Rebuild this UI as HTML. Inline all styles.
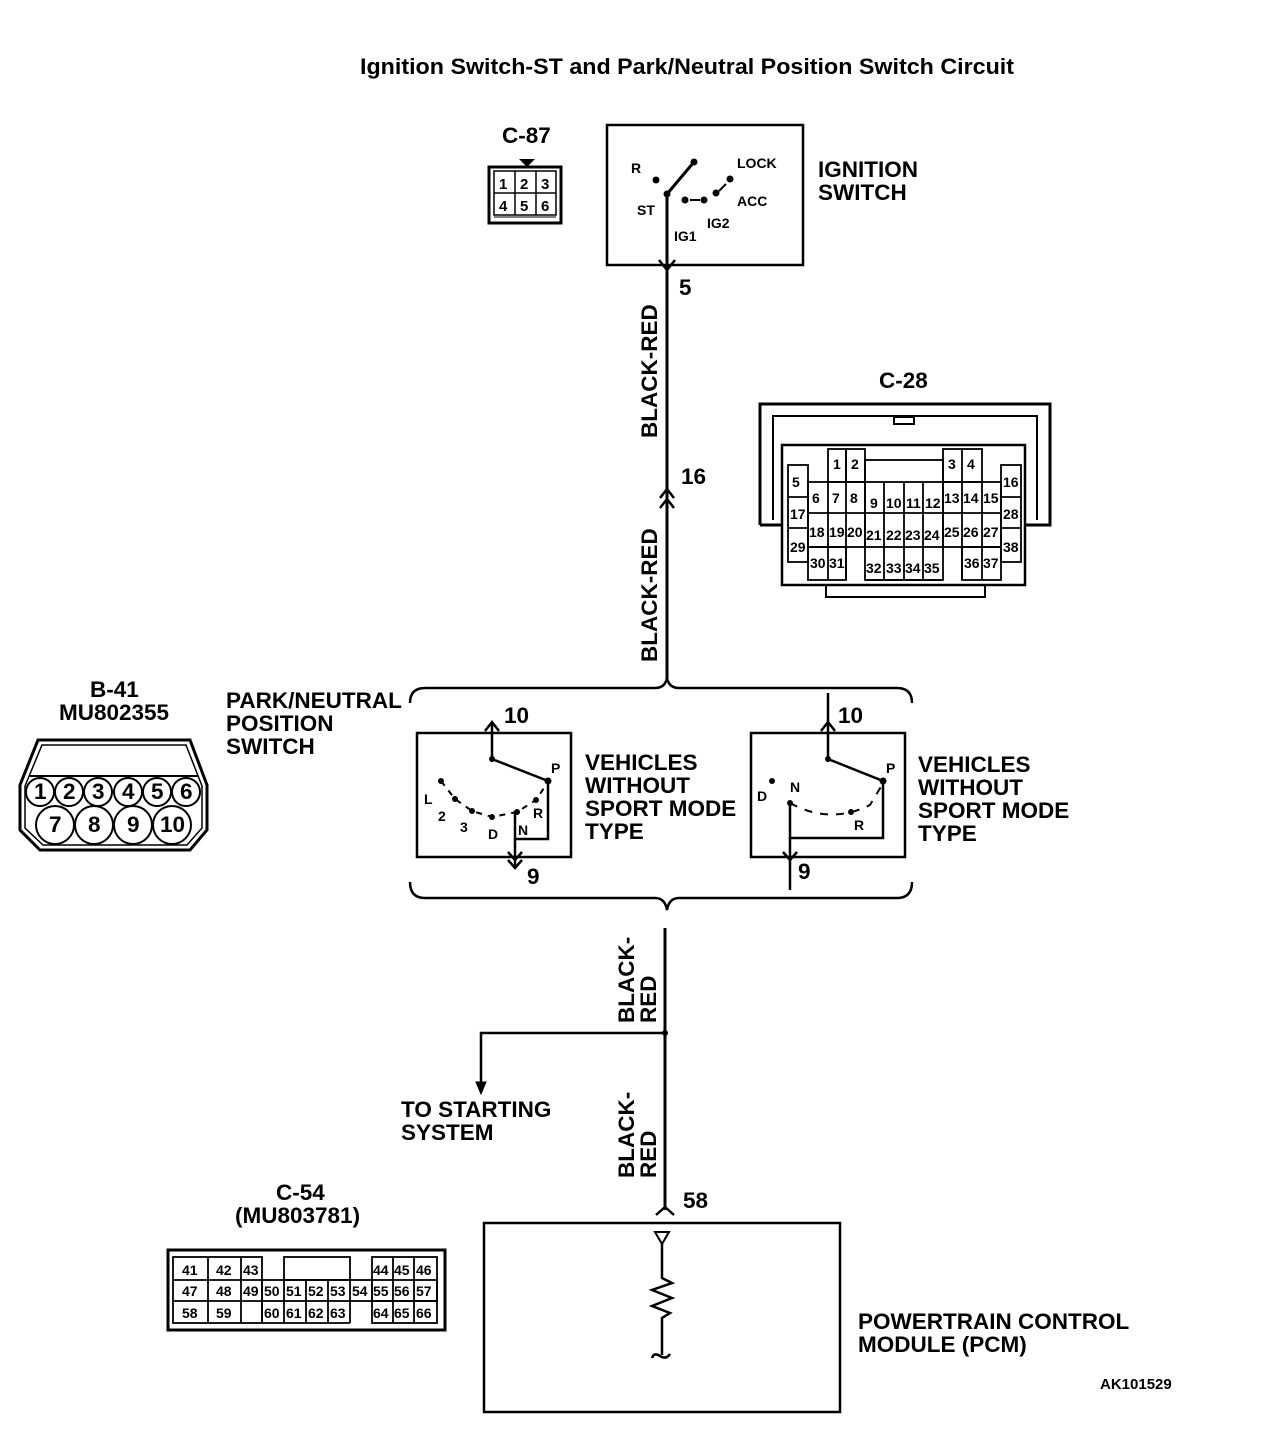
<!DOCTYPE html>
<html><head><meta charset="utf-8"><style>
html,body{margin:0;padding:0;background:#fff}
svg{display:block}
text{font-family:"Liberation Sans",Arial,sans-serif;fill:#000}
.t{font-size:22.5px;font-weight:bold}
.s{font-size:15px;font-weight:bold}
.c{font-size:14px;font-weight:bold}
</style></head><body>
<svg width="1280" height="1438" viewBox="0 0 1280 1438" xmlns="http://www.w3.org/2000/svg" fill="none" stroke="#000">
<text x="360" y="74" class="t" stroke="none" font-size="19" textLength="654" lengthAdjust="spacingAndGlyphs">Ignition Switch-ST and Park/Neutral Position Switch Circuit</text>

<!-- C-87 -->
<text x="502" y="143" class="t" stroke="none" font-size="21">C-87</text>
<path d="M519,159 L535,159 L527,167 Z" fill="#000" stroke="none"/>
<rect x="489" y="167" width="72" height="56" stroke-width="3"/>
<rect x="494" y="171" width="62" height="44" stroke-width="1.5"/>
<line x1="494" y1="193" x2="556" y2="193" stroke-width="1.5"/>
<line x1="515" y1="171" x2="515" y2="215" stroke-width="1.5"/>
<line x1="536" y1="171" x2="536" y2="215" stroke-width="1.5"/>
<line x1="494" y1="217" x2="556" y2="217" stroke-width="1"/>
<g class="s" stroke="none" font-size="17">
<text x="499" y="189">1</text><text x="520" y="189">2</text><text x="541" y="189">3</text>
<text x="499" y="211">4</text><text x="520" y="211">5</text><text x="541" y="211">6</text></g>

<!-- Ignition switch -->
<rect x="607" y="125" width="196" height="140" stroke-width="2.5"/>
<g stroke="none" class="c">
<text x="631" y="173">R</text><text x="737" y="168">LOCK</text><text x="637" y="215">ST</text>
<text x="737" y="206">ACC</text><text x="707" y="228">IG2</text><text x="674" y="241">IG1</text></g>
<line x1="667" y1="194" x2="694" y2="162" stroke-width="3"/>
<circle cx="694" cy="162" r="3" fill="#000"/><circle cx="667" cy="194" r="3" fill="#000"/>
<circle cx="656" cy="180" r="3" fill="#000"/><circle cx="730" cy="179" r="3" fill="#000"/>
<circle cx="685" cy="200" r="3" fill="#000"/><circle cx="704" cy="200" r="3" fill="#000"/><circle cx="716" cy="193" r="3" fill="#000"/>
<path d="M690,200 L700,200 M719,191 L726,184" stroke-width="2"/>
<line x1="667" y1="194" x2="667" y2="680" stroke-width="3"/>
<path d="M659,260 L667,270 L675,260" stroke-width="2.5"/>
<text x="679" y="295" class="t" stroke="none" font-size="20">5</text>
<path d="M660,498 L667,489 L674,498 M660,508 L667,499 L674,508" stroke-width="2.5"/>
<text x="681" y="484" class="t" stroke="none" font-size="20">16</text>
<text transform="translate(657,438) rotate(-90)" class="t" stroke="none" font-size="21">BLACK-RED</text>
<text transform="translate(657,662) rotate(-90)" class="t" stroke="none" font-size="21">BLACK-RED</text>
<text x="818" y="177" class="t" stroke="none">IGNITION</text>
<text x="818" y="200" class="t" stroke="none">SWITCH</text>

<!-- C-28 -->
<text x="879" y="388" class="t" stroke="none" font-size="21">C-28</text>
<path d="M760,525 L760,404 L1050,404 L1050,525 L1025,525 M760,525 L782,525" stroke-width="3"/>
<path d="M773,520 L773,416 L1037,416 L1037,520" stroke-width="2"/>
<rect x="894" y="417" width="20" height="7" stroke-width="2"/>
<rect x="782" y="445" width="243" height="140" stroke-width="2.5"/>
<rect x="826" y="585" width="159" height="12" stroke-width="2"/>
<g stroke-width="1.8">
<rect x="788" y="465" width="20" height="97"/>
<line x1="788" y1="497" x2="808" y2="497"/><line x1="788" y1="528" x2="808" y2="528"/>
<rect x="1001" y="465" width="20" height="97"/>
<line x1="1001" y1="497" x2="1021" y2="497"/><line x1="1001" y1="528" x2="1021" y2="528"/>
<rect x="828" y="449" width="37" height="33"/><line x1="846" y1="449" x2="846" y2="482"/>
<rect x="943" y="449" width="39" height="33"/><line x1="962" y1="449" x2="962" y2="482"/>
<rect x="865" y="460" width="78" height="120"/>
<rect x="808" y="482" width="193" height="65"/>
<line x1="808" y1="513" x2="1001" y2="513"/>
<line x1="828" y1="482" x2="828" y2="580"/><line x1="846" y1="449" x2="846" y2="580"/>
<line x1="865" y1="482" x2="865" y2="547"/>
<line x1="884" y1="482" x2="884" y2="580"/><line x1="904" y1="482" x2="904" y2="580"/><line x1="923" y1="482" x2="923" y2="580"/>
<line x1="943" y1="482" x2="943" y2="547"/><line x1="962" y1="482" x2="962" y2="580"/><line x1="982" y1="482" x2="982" y2="580"/>
<rect x="808" y="547" width="38" height="33"/><rect x="962" y="547" width="39" height="33"/>
<line x1="865" y1="580" x2="943" y2="580"/>
</g>
<g stroke="none" class="c" font-size="13">
<text x="833" y="469">1</text><text x="851" y="469">2</text><text x="948" y="469">3</text><text x="967" y="469">4</text>
<text x="792" y="487">5</text><text x="1003" y="487">16</text>
<text x="812" y="503">6</text><text x="832" y="503">7</text><text x="850" y="503">8</text>
<text x="870" y="508">9</text><text x="886" y="508">10</text><text x="906" y="508">11</text><text x="925" y="508">12</text>
<text x="944" y="503">13</text><text x="963" y="503">14</text><text x="983" y="503">15</text>
<text x="790" y="519">17</text><text x="1003" y="519">28</text>
<text x="809" y="537">18</text><text x="829" y="537">19</text><text x="847" y="537">20</text>
<text x="866" y="540">21</text><text x="886" y="540">22</text><text x="905" y="540">23</text><text x="924" y="540">24</text>
<text x="944" y="537">25</text><text x="963" y="537">26</text><text x="983" y="537">27</text>
<text x="790" y="552">29</text><text x="1003" y="552">38</text>
<text x="810" y="568">30</text><text x="829" y="568">31</text>
<text x="866" y="573">32</text><text x="886" y="573">33</text><text x="905" y="573">34</text><text x="924" y="573">35</text>
<text x="964" y="568">36</text><text x="983" y="568">37</text></g>

<!-- B-41 -->
<text x="90" y="697" class="t" stroke="none" font-size="21">B-41</text>
<text x="59" y="720" class="t" stroke="none" font-size="21.5">MU802355</text>
<path d="M38,740 L190,740 L207,785 L207,830 L190,850 L40,850 L20,830 L20,785 Z" stroke-width="3"/>
<path d="M42,745 L186,745 L202,786 L202,828 L187,845 L43,845 L25,828 L25,786 Z" stroke-width="1.5"/>
<line x1="30" y1="776" x2="198" y2="776" stroke-width="2"/>
<g stroke-width="2">
<circle cx="40" cy="792" r="14"/><circle cx="69" cy="792" r="14"/><circle cx="98" cy="792" r="14"/><circle cx="128" cy="792" r="14"/><circle cx="157" cy="792" r="14"/><circle cx="186" cy="792" r="14"/>
<circle cx="55" cy="825" r="19"/><circle cx="94" cy="825" r="19"/><circle cx="133" cy="825" r="19"/><circle cx="172" cy="825" r="19"/></g>
<g stroke="none" class="t" font-size="19">
<text x="34" y="799">1</text><text x="63" y="799">2</text><text x="92" y="799">3</text><text x="122" y="799">4</text><text x="151" y="799">5</text><text x="180" y="799">6</text>
<text x="49" y="832">7</text><text x="88" y="832">8</text><text x="127" y="832">9</text><text x="160" y="832">10</text></g>

<text x="226" y="708" class="t" stroke="none">PARK/NEUTRAL</text>
<text x="226" y="731" class="t" stroke="none">POSITION</text>
<text x="226" y="754" class="t" stroke="none">SWITCH</text>

<!-- braces -->
<path d="M410,703 Q410,688 425,688 L655,688 Q665,688 667,678 Q669,688 679,688 L897,688 Q912,688 912,703" stroke-width="2.5"/>
<path d="M410,882 Q410,898 425,898 L655,898 Q665,898 667,910 Q669,898 679,898 L897,898 Q912,898 912,882" stroke-width="2.5"/>

<!-- left switch -->
<rect x="417" y="733" width="154" height="124" stroke-width="2.5"/>
<path d="M492,722 L492,759 L548,781 L548,839 L515,839" stroke-width="2.5"/>
<path d="M485,731 L492,722 L499,731" stroke-width="2.5"/>
<path d="M515,811 L515,868" stroke-width="2.5"/>
<path d="M508,852 L515,860 L522,852 M508,860 L515,868 L522,860" stroke-width="2.5"/>
<path d="M441,781 L455,799 L472,811 L492,817 L517,812 L536,800 L546,785" stroke-width="2" stroke-dasharray="6,6"/>
<g fill="#000" stroke="none"><circle cx="441" cy="781" r="3"/><circle cx="455" cy="799" r="3"/><circle cx="472" cy="811" r="3"/><circle cx="492" cy="817" r="3"/><circle cx="517" cy="812" r="3"/><circle cx="536" cy="800" r="3"/><circle cx="548" cy="781" r="3.5"/><circle cx="492" cy="759" r="3"/></g>
<g stroke="none" class="c" font-size="15">
<text x="551" y="773">P</text><text x="424" y="804">L</text><text x="438" y="821">2</text><text x="460" y="832">3</text><text x="488" y="839">D</text><text x="518" y="835">N</text><text x="533" y="818">R</text></g>
<text x="504" y="723" class="t" stroke="none" font-size="20">10</text>
<text x="527" y="884" class="t" stroke="none" font-size="20">9</text>
<g class="t" stroke="none"><text x="585" y="770">VEHICLES</text><text x="585" y="793">WITHOUT</text><text x="585" y="816">SPORT MODE</text><text x="585" y="839">TYPE</text></g>

<!-- right switch -->
<rect x="751" y="733" width="154" height="124" stroke-width="2.5"/>
<path d="M828,693 L828,759 L883,781 L883,838 L790,838 L790,803" stroke-width="2.5"/>
<path d="M821,731 L828,722 L835,731" stroke-width="2.5"/>
<path d="M790,838 L790,890" stroke-width="2.5"/>
<path d="M783,852 L790,860 L797,852" stroke-width="2.5"/>
<path d="M790,803 Q830,825 870,805 L882,785" stroke-width="2" stroke-dasharray="8,8"/>
<g fill="#000" stroke="none"><circle cx="772" cy="781" r="3"/><circle cx="790" cy="803" r="3"/><circle cx="851" cy="812" r="3"/><circle cx="883" cy="781" r="3.5"/><circle cx="828" cy="759" r="3"/></g>
<g stroke="none" class="c" font-size="15">
<text x="886" y="773">P</text><text x="757" y="801">D</text><text x="790" y="792">N</text><text x="854" y="830">R</text></g>
<text x="838" y="723" class="t" stroke="none" font-size="20">10</text>
<text x="798" y="879" class="t" stroke="none" font-size="20">9</text>
<g class="t" stroke="none"><text x="918" y="772">VEHICLES</text><text x="918" y="795">WITHOUT</text><text x="918" y="818">SPORT MODE</text><text x="918" y="841">TYPE</text></g>

<!-- lower wire -->
<line x1="665" y1="928" x2="665" y2="1210" stroke-width="3"/>
<path d="M665,1033 L481,1033 L481,1088" stroke-width="2.5"/>
<path d="M476,1082 L481,1094 L486,1082 Z" fill="#000"/>
<circle cx="665" cy="1033" r="2.5" fill="#000"/>
<g class="t" stroke="none" font-size="21">
<text transform="translate(634,1023) rotate(-90)">BLACK-</text>
<text transform="translate(656,1023) rotate(-90)">RED</text>
<text transform="translate(634,1178) rotate(-90)">BLACK-</text>
<text transform="translate(656,1178) rotate(-90)">RED</text></g>
<g class="t" stroke="none"><text x="401" y="1117">TO STARTING</text><text x="401" y="1140">SYSTEM</text></g>
<path d="M656,1215 L665,1207 L674,1215" stroke-width="2.5"/>
<text x="683" y="1208" class="t" stroke="none" font-size="20">58</text>

<!-- PCM -->
<rect x="484" y="1223" width="356" height="189" stroke-width="2.5"/>
<path d="M655,1232 L669,1232 L662,1244 Z" stroke-width="2"/>
<path d="M662,1244 L662,1278 L672,1283 L652,1290 L672,1298 L652,1306 L670,1313 L662,1318 L662,1355" stroke-width="2.5"/>
<path d="M652,1358 Q654,1352 660,1356 Q666,1360 670,1354" stroke-width="2.5"/>
<g class="t" stroke="none"><text x="858" y="1329">POWERTRAIN CONTROL</text><text x="858" y="1352">MODULE (PCM)</text></g>
<text x="1100" y="1389" class="s" stroke="none" font-size="16">AK101529</text>

<!-- C-54 -->
<text x="276" y="1200" class="t" stroke="none" font-size="21">C-54</text>
<text x="235" y="1223" class="t" stroke="none" font-size="21">(MU803781)</text>
<rect x="168" y="1250" width="277" height="80" stroke-width="3"/>
<g stroke-width="1.8">
<rect x="173" y="1257" width="89" height="66"/>
<line x1="208" y1="1257" x2="208" y2="1323"/><line x1="241" y1="1257" x2="241" y2="1323"/>
<line x1="173" y1="1280" x2="262" y2="1280"/><line x1="173" y1="1301" x2="262" y2="1301"/>
<rect x="284" y="1257" width="66" height="23"/>
<rect x="262" y="1280" width="175" height="21"/>
<line x1="284" y1="1280" x2="284" y2="1323"/><line x1="306" y1="1280" x2="306" y2="1323"/><line x1="328" y1="1280" x2="328" y2="1323"/><line x1="350" y1="1280" x2="350" y2="1323"/>
<line x1="262" y1="1301" x2="262" y2="1323"/><line x1="262" y1="1323" x2="350" y2="1323"/>
<line x1="372" y1="1280" x2="372" y2="1301"/>
<rect x="372" y="1257" width="65" height="66"/>
<line x1="393" y1="1257" x2="393" y2="1323"/><line x1="414" y1="1257" x2="414" y2="1323"/>
<line x1="372" y1="1301" x2="437" y2="1301"/>
</g>
<g class="c" stroke="none" font-size="13">
<text x="182" y="1275">41</text><text x="216" y="1275">42</text><text x="243" y="1275">43</text>
<text x="373" y="1275">44</text><text x="394" y="1275">45</text><text x="416" y="1275">46</text>
<text x="182" y="1296">47</text><text x="216" y="1296">48</text><text x="243" y="1296">49</text><text x="264" y="1296">50</text><text x="286" y="1296">51</text><text x="308" y="1296">52</text><text x="330" y="1296">53</text><text x="352" y="1296">54</text><text x="373" y="1296">55</text><text x="394" y="1296">56</text><text x="416" y="1296">57</text>
<text x="182" y="1318">58</text><text x="216" y="1318">59</text><text x="264" y="1318">60</text><text x="286" y="1318">61</text><text x="308" y="1318">62</text><text x="330" y="1318">63</text><text x="373" y="1318">64</text><text x="394" y="1318">65</text><text x="416" y="1318">66</text></g>
</svg>
</body></html>
